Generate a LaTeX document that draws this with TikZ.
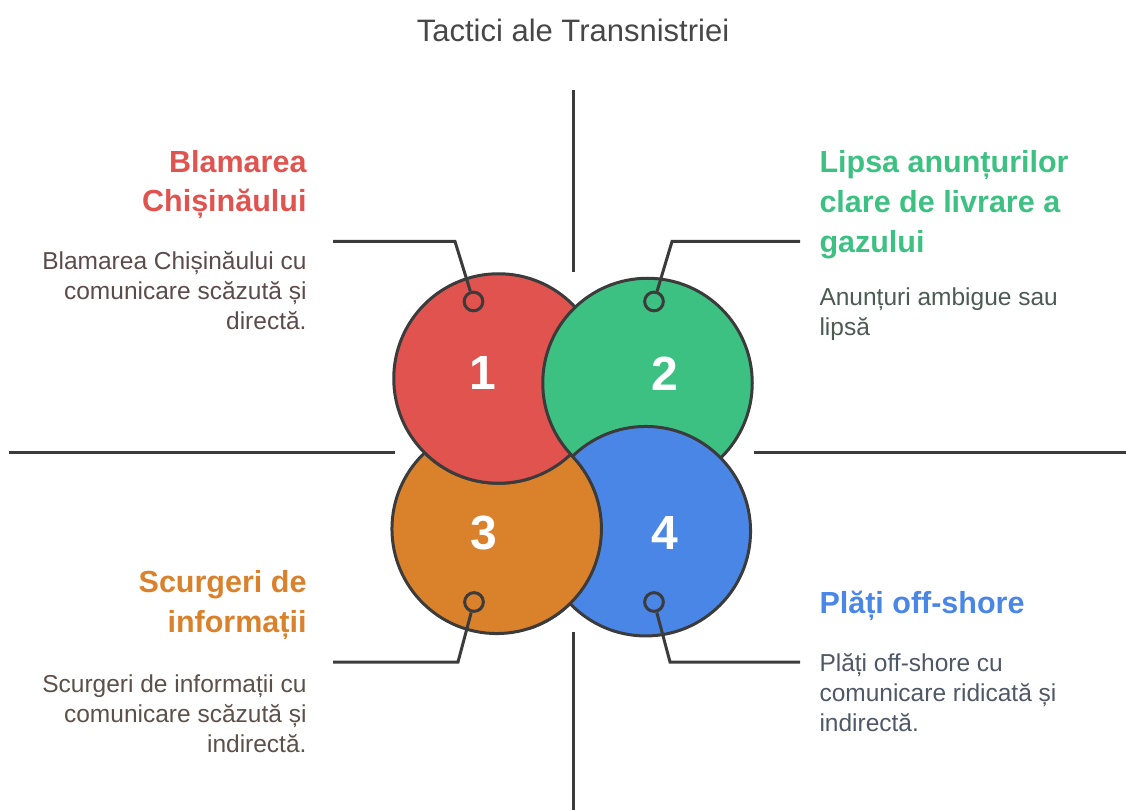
\documentclass[tikz,border=0pt]{standalone}
\usepackage{fontspec}
\setmainfont{Liberation Sans}
\usetikzlibrary{positioning, shapes.geometric}
\definecolor{redc}{HTML}{E0534F}
\definecolor{greenc}{HTML}{3DC182}
\definecolor{orangec}{HTML}{DA812C}
\definecolor{bluec}{HTML}{4A86E6}
\definecolor{linec}{HTML}{3B3B3B}
\definecolor{titlec}{HTML}{474747}
\definecolor{txtred}{HTML}{5C4B4B}
\definecolor{txtgreen}{HTML}{4B5A52}
\definecolor{txtorange}{HTML}{5C5048}
\definecolor{txtblue}{HTML}{4F5866}

\begin{document}
\begin{tikzpicture}[x=1pt,y=-1pt,line width=3pt]
  \tikzstyle{big}=[circle,draw=linec,minimum size=209.5pt,inner sep=0pt]
  \tikzstyle{num}=[text=white,font=\fontsize{48}{48}\selectfont\bfseries]
  \tikzstyle{dot}=[circle,draw=linec,minimum size=18.7pt,inner sep=0pt]
  \tikzstyle{head}=[font=\fontsize{30.5}{39.5}\selectfont\bfseries,inner sep=0pt]
  \tikzstyle{desc}=[font=\fontsize{24.5}{30}\selectfont,inner sep=0pt]
  \tikzstyle{wire}=[draw=linec,line width=3pt]

  \useasboundingbox (0,0) rectangle (1126,810);

  \node[font=\fontsize{31}{31}\selectfont,text=titlec,anchor=base] (title) at (573,42) {Tactici ale Transnistriei};

  % axes
  \coordinate (vt1) at (573.5,90);  \coordinate (vt2) at (573.5,272);
  \coordinate (vb1) at (573.5,632); \coordinate (vb2) at (573.5,810);
  \coordinate (hl1) at (9,452);     \coordinate (hl2) at (395,452);
  \coordinate (hr1) at (754,452);   \coordinate (hr2) at (1126,452);
  \draw[wire] (vt1) -- (vt2) (vb1) -- (vb2) (hl1) -- (hl2) (hr1) -- (hr2);

  % circles
  \node[big,fill=orangec] (c3) at (496.7,528.8) {};
  \node[big,fill=redc]    (c1) at (498.5,378.5) {};
  \node[big,fill=greenc]  (c2) at (647.5,383)   {};
  \node[big,fill=bluec]   (c4) at (645.8,531.2) {};
  % orange lies over blue, red over orange
  \begin{scope}
    \clip (530,455) rectangle (760,650);
    \filldraw[fill=orangec,draw=linec] (c3.center) circle (104.75pt);
  \end{scope}
  \begin{scope}
    \clip (380,455) rectangle (600,500);
    \filldraw[fill=redc,draw=linec] (c1.center) circle (104.75pt);
  \end{scope}

  \node[num] (n1) at (483,373) {1};
  \node[num] (n2) at (664.5,373.5) {2};
  \node[num] (n3) at (484,533) {3};
  \node[num] (n4) at (665,533) {4};

  % connectors
  \node[dot] (p1) at (473.5,301.5) {};
  \node[dot] (p2) at (654,301.5) {};
  \node[dot] (p3) at (474,602) {};
  \node[dot] (p4) at (654,602) {};
  \coordinate (k1) at (455,241.5); \coordinate (e1) at (333,241.5);
  \coordinate (k2) at (672,241.5); \coordinate (e2) at (800,241.5);
  \coordinate (k3) at (458,662);   \coordinate (e3) at (333,662);
  \coordinate (k4) at (670,662);   \coordinate (e4) at (800,662);
  \draw[wire] (p1) -- (k1) -- (e1);
  \draw[wire] (p2) -- (k2) -- (e2);
  \draw[wire] (p3) -- (k3) -- (e3);
  \draw[wire] (p4) -- (k4) -- (e4);

  % texts (base = last line)
  \node[head,text=redc,anchor=base east,align=right] (h1) at (308,212) {Blamarea\\Chișinăului};
  \node[desc,text=txtred,anchor=base east,align=right] (d1) at (308,329) {Blamarea Chișinăului cu\\comunicare scăzută și\\directă.};
  \node[head,text=greenc,anchor=base west,align=left] (h2) at (818,252) {Lipsa anunțurilor\\clare de livrare a\\gazului};
  \node[desc,text=txtgreen,anchor=base west,align=left] (d2) at (818,335) {Anunțuri ambigue sau\\lipsă};
  \node[head,text=orangec,anchor=base east,align=right] (h3) at (308,632) {Scurgeri de\\informații};
  \node[desc,text=txtorange,anchor=base east,align=right] (d3) at (308,752) {Scurgeri de informații cu\\comunicare scăzută și\\indirectă.};
  \node[head,text=bluec,anchor=base west,align=left] (h4) at (818,613) {Plăți off-shore};
  \node[desc,text=txtblue,anchor=base west,align=left] (d4) at (818,731) {Plăți off-shore cu\\comunicare ridicată și\\indirectă.};
\end{tikzpicture}
\end{document}
